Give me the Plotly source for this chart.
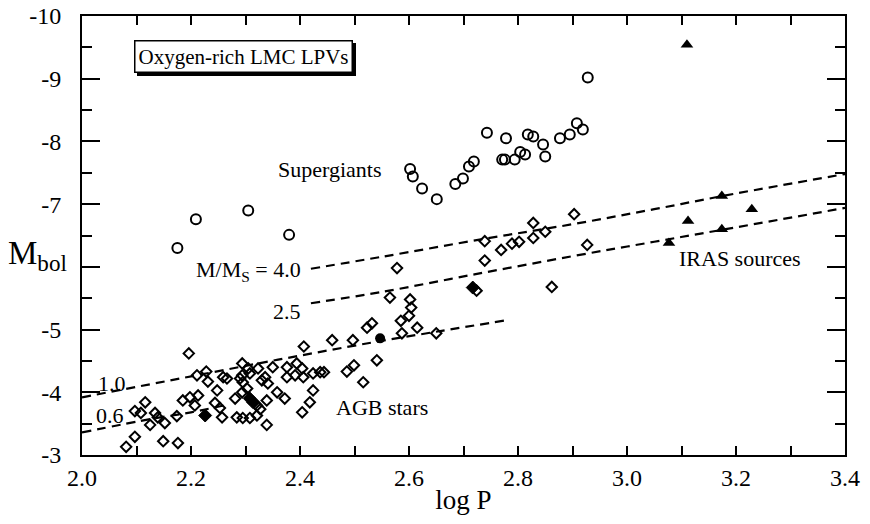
import plotly.graph_objects as go

# ---------------- data ----------------
agb_x = [2.081, 2.097, 2.116, 2.097, 2.108, 2.125, 2.134, 2.139, 2.152, 2.149, 2.176, 2.174,
         2.196, 2.185, 2.198, 2.213, 2.207, 2.211, 2.228, 2.231, 2.244, 2.248, 2.253, 2.257,
         2.259, 2.266, 2.281, 2.284, 2.294, 2.294, 2.295, 2.303, 2.305, 2.308, 2.295, 2.308,
         2.321, 2.323, 2.330, 2.336, 2.341, 2.321, 2.327, 2.339, 2.339, 2.350, 2.358, 2.372,
         2.376, 2.394, 2.404, 2.376, 2.391, 2.406, 2.424, 2.437, 2.444, 2.424, 2.418, 2.404,
         2.407, 2.459, 2.486, 2.499, 2.497, 2.516, 2.523, 2.532, 2.541, 2.578, 2.565, 2.602,
         2.604, 2.600, 2.585, 2.615, 2.587, 2.650, 2.739, 2.739, 2.769, 2.789, 2.802, 2.828,
         2.828, 2.850, 2.903, 2.927, 2.862, 2.290, 2.294, 2.724]
agb_y = [-3.13, -3.29, -3.84, -3.70, -3.67, -3.48, -3.67, -3.60, -3.51, -3.22, -3.19, -3.62,
         -4.62, -3.87, -3.92, -3.95, -3.79, -4.27, -4.33, -4.17, -3.83, -4.03, -3.75, -3.60,
         -4.24, -4.22, -3.90, -3.60, -4.46, -4.27, -4.16, -4.06, -4.38, -4.30, -3.59, -3.59,
         -3.63, -4.38, -4.19, -4.24, -4.14, -3.79, -3.73, -3.87, -3.48, -4.40, -4.00, -3.90,
         -4.40, -4.46, -4.38, -4.24, -4.27, -4.24, -4.30, -4.32, -4.32, -4.03, -3.84, -3.68,
         -4.73, -4.83, -4.33, -4.43, -4.83, -4.16, -5.03, -5.10, -4.51, -5.98, -5.51, -5.48,
         -5.35, -5.22, -5.14, -5.03, -4.94, -4.94, -6.41, -6.10, -6.27, -6.37, -6.40, -6.70,
         -6.46, -6.56, -6.84, -6.35, -5.68, -4.22, -4.00, -5.62]

agb_filled_x = [2.226, 2.308, 2.314, 2.717]
agb_filled_y = [-3.63, -3.90, -3.84, -5.67]

agb_dot_x = [2.547]
agb_dot_y = [-4.86]

sg_x = [2.175, 2.209, 2.305, 2.380, 2.602, 2.607, 2.624, 2.651, 2.685, 2.699, 2.710, 2.719,
        2.743, 2.771, 2.776, 2.794, 2.778, 2.804, 2.813, 2.818, 2.828, 2.846, 2.850, 2.877,
        2.895, 2.908, 2.919, 2.928]
sg_y = [-6.30, -6.76, -6.90, -6.51, -7.56, -7.44, -7.25, -7.08, -7.32, -7.41, -7.60, -7.68,
        -8.14, -7.71, -7.71, -7.71, -8.05, -7.83, -7.79, -8.11, -8.08, -7.95, -7.76, -8.05,
        -8.11, -8.29, -8.19, -9.02]

iras_x = [3.110, 3.174, 3.112, 3.229, 3.174, 3.077]
iras_y = [-9.54, -7.13, -6.73, -6.92, -6.60, -6.38]

track40_x = [2.42, 2.55, 2.74, 2.90, 3.05, 3.20, 3.40]
track40_y = [-5.97, -6.16, -6.45, -6.68, -6.92, -7.17, -7.48]
track25_x = [2.42, 2.55, 2.72, 2.90, 3.05, 3.20, 3.40]
track25_y = [-5.42, -5.60, -5.88, -6.17, -6.40, -6.63, -6.94]
track10_x = [2.00, 2.18, 2.36, 2.53, 2.66, 2.78]
track10_y = [-3.92, -4.22, -4.52, -4.79, -4.98, -5.15]
track06_x = [2.00, 2.13, 2.20, 2.26]
track06_y = [-3.36, -3.58, -3.68, -3.79]

x_ticks = [2.0, 2.2, 2.4, 2.6, 2.8, 3.0, 3.2, 3.4]
x_ticklabels = ["2.0", "2.2", "2.4", "2.6", "2.8", "3.0", "3.2", "3.4"]
y_ticks = [-10, -9, -8, -7, -6, -5, -4, -3]
# the -6 label position is taken by the M_bol axis title in the original
y_ticklabels = ["-10", "-9", "-8", "-7", "", "-5", "-4", "-3"]

x_range = [2.0, 3.4]
y_range = [-3, -10]

FONT = "Liberation Serif"

fig = go.Figure()

dash_style = dict(color="black", width=2.2, dash="9px,6px")
for tx, ty in [(track40_x, track40_y), (track25_x, track25_y),
               (track10_x, track10_y), (track06_x, track06_y)]:
    fig.add_trace(go.Scatter(x=tx, y=ty, mode="lines", line=dict(shape="spline", **dash_style),
                             hoverinfo="skip", showlegend=False))

fig.add_trace(go.Scatter(x=agb_x, y=agb_y, mode="markers", showlegend=False,
                         marker=dict(symbol="diamond-open", size=8, color="black",
                                     line=dict(width=2, color="black"))))
fig.add_trace(go.Scatter(x=agb_filled_x, y=agb_filled_y, mode="markers", showlegend=False,
                         marker=dict(symbol="diamond", size=10, color="black",
                                     line=dict(width=1, color="black"))))
fig.add_trace(go.Scatter(x=agb_dot_x, y=agb_dot_y, mode="markers", showlegend=False,
                         marker=dict(symbol="circle", size=10, color="black")))
fig.add_trace(go.Scatter(x=sg_x, y=sg_y, mode="markers", showlegend=False,
                         marker=dict(symbol="circle-open", size=10, color="black",
                                     line=dict(width=2, color="black"))))
fig.add_trace(go.Scatter(x=iras_x, y=iras_y, mode="markers", showlegend=False,
                         marker=dict(symbol="triangle-up", size=11, color="black")))

txt = dict(family=FONT, size=22, color="black")
annos = [
    dict(x=2.455, y=-7.56, text="Supergiants"),
    dict(x=2.550, y=-3.75, text="AGB stars"),
    dict(x=3.207, y=-6.13, text="IRAS sources"),
    dict(x=2.305, y=-5.93, text="M/M<sub>S</sub> = 4.0"),
    dict(x=2.376, y=-5.29, text="2.5"),
    dict(x=2.055, y=-4.14, text="1.0"),
    dict(x=2.051, y=-3.63, text="0.6"),
]
for a in annos:
    fig.add_annotation(x=a["x"], y=a["y"], text=a["text"], showarrow=False, font=txt,
                       xref="x", yref="y", xanchor="center", yanchor="middle")

# title box with shadow
box_text = "Oxygen-rich LMC LPVs"
for shift, bg in [(3, "black"), (0, "white")]:
    fig.add_annotation(x=2.297, y=-9.35, text=box_text, showarrow=False,
                       font=dict(family=FONT, size=21, color="black"),
                       bgcolor=bg, bordercolor="black", borderwidth=1.5, borderpad=3,
                       xshift=shift, yshift=-shift, xanchor="center", yanchor="middle")

# y-axis title (horizontal)
fig.add_annotation(xref="paper", yref="paper", x=-0.1, y=0.455, showarrow=False,
                   xanchor="left", yanchor="middle",
                   text="M<sub>bol</sub>", font=dict(family=FONT, size=33, color="black"))

# the page body adds an 8px offset; compensate so the plot area sits where it should
fig.update_layout(
    width=862, height=516,
    margin=dict(l=74, r=25, t=8, b=69, autoexpand=False),
    paper_bgcolor="white", plot_bgcolor="white",
    font=dict(family=FONT, color="black"),
    xaxis=dict(range=x_range, tickmode="array", tickvals=x_ticks, ticktext=x_ticklabels,
               ticks="inside", ticklen=9, tickwidth=1.5, tickcolor="black",
               minor=dict(dtick=0.1, tick0=2.0, ticks="inside", ticklen=9, tickwidth=1.5,
                          tickcolor="black"),
               showline=True, linecolor="black", linewidth=2, mirror="allticks",
               showgrid=False, zeroline=False, automargin=False, ticklabeloverflow="allow",
               tickfont=dict(family=FONT, size=24),
               title=dict(text="log P", font=dict(family=FONT, size=27), standoff=0)),
    yaxis=dict(range=y_range, tickmode="array", tickvals=y_ticks, ticktext=y_ticklabels,
               ticks="inside", ticklen=18, tickwidth=1.5, tickcolor="black",
               minor=dict(dtick=0.5, tick0=-10, ticks="inside", ticklen=10, tickwidth=1.5,
                          tickcolor="black"),
               showline=True, linecolor="black", linewidth=2, mirror="allticks",
               showgrid=False, zeroline=False, automargin=False, ticklabelstandoff=14,
               ticklabeloverflow="allow",
               tickfont=dict(family=FONT, size=24)),
)

fig.write_html("out.html")
